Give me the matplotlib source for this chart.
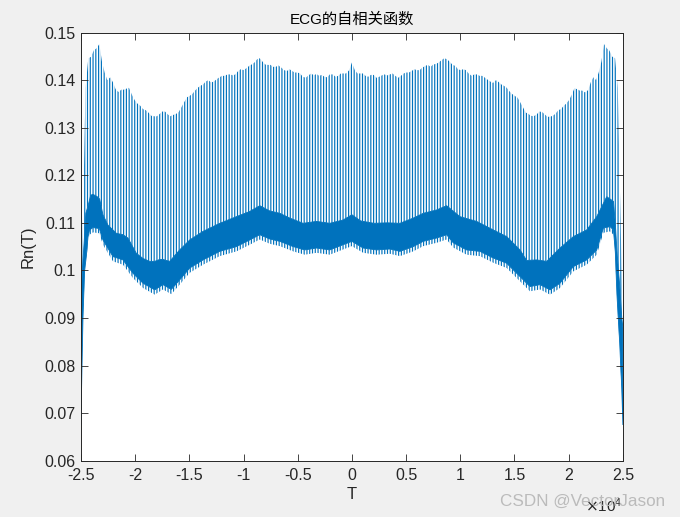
import numpy as np
import matplotlib
matplotlib.use("Agg")
import matplotlib.pyplot as plt

# lag T in units of 1e4 samples
peak_T = [-2.457, -2.432, -2.407, -2.380, -2.355, -2.330, -2.306, -2.281, -2.257, -2.229,
          -2.204, -2.180, -2.155, -2.127, -2.103, -2.081, -2.057, -2.029, -2.004, -1.980,
          -1.952, -1.927, -1.903, -1.878, -1.850, -1.826, -1.798, -1.773, -1.749, -1.724,
          -1.699, -1.675, -1.647, -1.622, -1.598, -1.573, -1.549, -1.521, -1.496, -1.472,
          -1.447, -1.422, -1.398, -1.373, -1.349, -1.324, -1.299, -1.275, -1.247, -1.222,
          -1.198, -1.173, -1.148, -1.124, -1.099, -1.075, -1.050, -1.025, -1.001, -0.973,
          -0.948, -0.924, -0.899, -0.874, -0.850, -0.825, -0.801, -0.776, -0.751, -0.727,
          -0.702, -0.678, -0.650, -0.625, -0.601, -0.576, -0.551, -0.527, -0.502, -0.478,
          -0.453, -0.425, -0.401, -0.376, -0.351, -0.327, -0.302, -0.278, -0.253, -0.228,
          -0.204, -0.176, -0.151, -0.127, -0.102, -0.077, -0.053, -0.025, 0.000, 0.027,
          0.052, 0.076, 0.101, 0.126, 0.150, 0.175, 0.200, 0.227, 0.252, 0.276,
          0.301, 0.326, 0.350, 0.375, 0.400, 0.427, 0.452, 0.477, 0.501, 0.526,
          0.550, 0.575, 0.600, 0.624, 0.649, 0.677, 0.701, 0.726, 0.751, 0.775,
          0.800, 0.827, 0.852, 0.877, 0.901, 0.929, 0.954, 0.978, 1.003, 1.028,
          1.052, 1.077, 1.104, 1.129, 1.154, 1.178, 1.203, 1.228, 1.252, 1.277,
          1.302, 1.329, 1.354, 1.378, 1.403, 1.428, 1.452, 1.477, 1.502, 1.529,
          1.554, 1.578, 1.603, 1.628, 1.652, 1.677, 1.705, 1.729, 1.754, 1.779,
          1.803, 1.828, 1.852, 1.877, 1.905, 1.929, 1.954, 1.979, 2.003, 2.028,
          2.053, 2.077, 2.102, 2.126, 2.151, 2.179, 2.203, 2.228, 2.253, 2.277,
          2.302, 2.326, 2.351, 2.376, 2.403, 2.428, 2.453]
peak_val = [0.1384, 0.1446, 0.1449, 0.1463, 0.1467, 0.1476, 0.1439, 0.1416, 0.1400, 0.1406,
            0.1395, 0.1381, 0.1375, 0.1380, 0.1380, 0.1382, 0.1384, 0.1369, 0.1358, 0.1351,
            0.1346, 0.1339, 0.1337, 0.1332, 0.1325, 0.1324, 0.1324, 0.1329, 0.1334, 0.1334,
            0.1328, 0.1324, 0.1327, 0.1329, 0.1333, 0.1343, 0.1353, 0.1364, 0.1367, 0.1371,
            0.1378, 0.1384, 0.1388, 0.1391, 0.1397, 0.1400, 0.1395, 0.1397, 0.1402, 0.1406,
            0.1409, 0.1409, 0.1412, 0.1412, 0.1410, 0.1412, 0.1419, 0.1423, 0.1421, 0.1425,
            0.1430, 0.1433, 0.1437, 0.1444, 0.1446, 0.1439, 0.1433, 0.1432, 0.1432, 0.1428,
            0.1428, 0.1431, 0.1426, 0.1421, 0.1419, 0.1423, 0.1419, 0.1416, 0.1416, 0.1414,
            0.1407, 0.1405, 0.1410, 0.1414, 0.1410, 0.1413, 0.1409, 0.1411, 0.1407, 0.1406,
            0.1412, 0.1412, 0.1407, 0.1409, 0.1414, 0.1414, 0.1414, 0.1421, 0.1437, 0.1421,
            0.1414, 0.1414, 0.1414, 0.1409, 0.1407, 0.1411, 0.1411, 0.1405, 0.1407, 0.1410,
            0.1412, 0.1410, 0.1412, 0.1414, 0.1409, 0.1405, 0.1409, 0.1414, 0.1416, 0.1416,
            0.1419, 0.1423, 0.1421, 0.1421, 0.1426, 0.1430, 0.1432, 0.1428, 0.1433, 0.1434,
            0.1437, 0.1442, 0.1446, 0.1444, 0.1439, 0.1432, 0.1430, 0.1423, 0.1421, 0.1423,
            0.1421, 0.1414, 0.1409, 0.1412, 0.1412, 0.1409, 0.1409, 0.1405, 0.1401, 0.1397,
            0.1394, 0.1400, 0.1396, 0.1391, 0.1388, 0.1384, 0.1377, 0.1371, 0.1367, 0.1363,
            0.1353, 0.1343, 0.1332, 0.1329, 0.1325, 0.1324, 0.1328, 0.1334, 0.1333, 0.1328,
            0.1323, 0.1323, 0.1325, 0.1329, 0.1337, 0.1339, 0.1346, 0.1351, 0.1358, 0.1369,
            0.1383, 0.1381, 0.1378, 0.1378, 0.1374, 0.1379, 0.1395, 0.1406, 0.1400, 0.1416,
            0.1439, 0.1476, 0.1467, 0.1462, 0.1449, 0.1446, 0.1384]

# upper edge of the dense band
top_T = [-2.500, -2.487, -2.470, -2.455, -2.435, -2.410, -2.389, -2.350, -2.327, -2.297,
         -2.250, -2.173, -2.112, -2.066, -1.989, -1.927, -1.866, -1.819, -1.773, -1.743,
         -1.681, -1.589, -1.496, -1.373, -1.219, -1.065, -0.942, -0.850, -0.758, -0.665,
         -0.573, -0.450, -0.327, -0.204, -0.081, 0.000, 0.081, 0.204, 0.327, 0.443,
         0.566, 0.658, 0.781, 0.874, 0.997, 1.151, 1.305, 1.428, 1.551, 1.612,
         1.705, 1.797, 1.920, 2.043, 2.166, 2.259, 2.351, 2.413, 2.430, 2.445,
         2.470, 2.490, 2.500]
top_val = [0.0900, 0.1000, 0.1060, 0.1120, 0.1135, 0.1158, 0.1160, 0.1155, 0.1150, 0.1117,
           0.1095, 0.1078, 0.1075, 0.1068, 0.1036, 0.1025, 0.1019, 0.1019, 0.1023, 0.1023,
           0.1019, 0.1043, 0.1064, 0.1082, 0.1099, 0.1113, 0.1124, 0.1136, 0.1125, 0.1120,
           0.1110, 0.1099, 0.1103, 0.1099, 0.1106, 0.1117, 0.1104, 0.1099, 0.1100, 0.1099,
           0.1110, 0.1120, 0.1127, 0.1136, 0.1113, 0.1103, 0.1085, 0.1071, 0.1043, 0.1021,
           0.1022, 0.1019, 0.1047, 0.1071, 0.1085, 0.1113, 0.1155, 0.1145, 0.1100, 0.1040,
           0.0970, 0.0900, 0.0880]

# lower edge of the dense band
bot_T = [-2.500, -2.490, -2.481, -2.466, -2.450, -2.435, -2.420, -2.389, -2.330, -2.297,
         -2.204, -2.112, -2.020, -1.927, -1.819, -1.743, -1.666, -1.589, -1.496, -1.373,
         -1.219, -1.065, -0.942, -0.850, -0.758, -0.665, -0.542, -0.435, -0.327, -0.204,
         -0.081, 0.000, 0.104, 0.227, 0.350, 0.443, 0.566, 0.658, 0.781, 0.874,
         0.935, 1.058, 1.181, 1.305, 1.428, 1.551, 1.643, 1.736, 1.828, 1.920,
         2.043, 2.166, 2.259, 2.320, 2.382, 2.413, 2.430, 2.445, 2.470, 2.490,
         2.500]
bot_val = [0.0675, 0.0800, 0.0900, 0.1000, 0.1030, 0.1070, 0.1085, 0.1090, 0.1088, 0.1064,
           0.1029, 0.1022, 0.0994, 0.0973, 0.0959, 0.0970, 0.0960, 0.0980, 0.1005, 0.1022,
           0.1040, 0.1050, 0.1064, 0.1075, 0.1066, 0.1061, 0.1050, 0.1043, 0.1047, 0.1043,
           0.1054, 0.1061, 0.1047, 0.1043, 0.1045, 0.1040, 0.1050, 0.1061, 0.1068, 0.1075,
           0.1058, 0.1043, 0.1040, 0.1026, 0.1015, 0.0987, 0.0966, 0.0970, 0.0959, 0.0973,
           0.1008, 0.1022, 0.1043, 0.1089, 0.1092, 0.1085, 0.1040, 0.0950, 0.0850, 0.0750,
           0.0675]

xticks = [-2.5, -2, -1.5, -1, -0.5, 0, 0.5, 1, 1.5, 2, 2.5]
xtick_labels = ["-2.5", "-2", "-1.5", "-1", "-0.5", "0", "0.5", "1", "1.5", "2", "2.5"]
yticks = [0.06, 0.07, 0.08, 0.09, 0.10, 0.11, 0.12, 0.13, 0.14, 0.15]
ytick_labels = ["0.06", "0.07", "0.08", "0.09", "0.1", "0.11", "0.12", "0.13", "0.14", "0.15"]

blue = "#0072BD"
plt.rcParams['font.family'] = ['Liberation Sans', 'Noto Sans CJK SC', 'DejaVu Sans']
plt.rcParams['hatch.linewidth'] = 0.85

fig = plt.figure(figsize=(6.8, 5.17), dpi=100, facecolor="#F0F0F0")
ax = fig.add_axes([0.119, 0.109, 0.797, 0.828])

# spikes: region between band top and spike peaks, drawn as vertical hatch
sx = np.concatenate([peak_T, top_T[::-1]])
sy = np.concatenate([peak_val, top_val[::-1]])
ax.fill(sx, sy, facecolor="none", edgecolor=blue, linewidth=0, hatch="||||||")

# small spikes under the band
fringe = 0.0010
ax.fill_between(bot_T, np.array(bot_val) - fringe, bot_val, facecolor="none",
                edgecolor=blue, linewidth=0, hatch="||||||")

# the dense band itself
bx = np.concatenate([top_T, bot_T[::-1]])
by = np.concatenate([top_val, bot_val[::-1]])
ax.fill(bx, by, facecolor=blue, edgecolor=blue, linewidth=0.6)

ax.set_xlim(-2.5, 2.5)
ax.set_ylim(0.06, 0.15)
ax.set_xticks(xticks)
ax.set_xticklabels(xtick_labels)
ax.set_yticks(yticks)
ax.set_yticklabels(ytick_labels)
ax.tick_params(direction="in", top=True, right=True, length=5, width=0.6,
               labelsize=11.5, colors="#262626")
ax.tick_params(axis="y", pad=4)
ax.tick_params(axis="x", pad=5)
for s in ax.spines.values():
    s.set_linewidth(0.7)
    s.set_color("#262626")

ax.set_title("ECG的自相关函数", fontsize=11, color="black", pad=6)
ax.set_xlabel("T", fontsize=12, color="#262626", labelpad=3)
ax.set_ylabel("Rn(T)", fontsize=12, color="#262626", labelpad=6)
ax.text(1.0, -0.105, r"$\times\mathdefault{10^{4}}$", transform=ax.transAxes,
        ha="right", va="center", fontsize=11, color="#262626")

fig.text(0.978, 0.03, "CSDN @VectorJason", ha="right", va="center",
         fontsize=12.3, color="#BBBBBB")

fig.savefig("out.png", dpi=100, facecolor=fig.get_facecolor())
